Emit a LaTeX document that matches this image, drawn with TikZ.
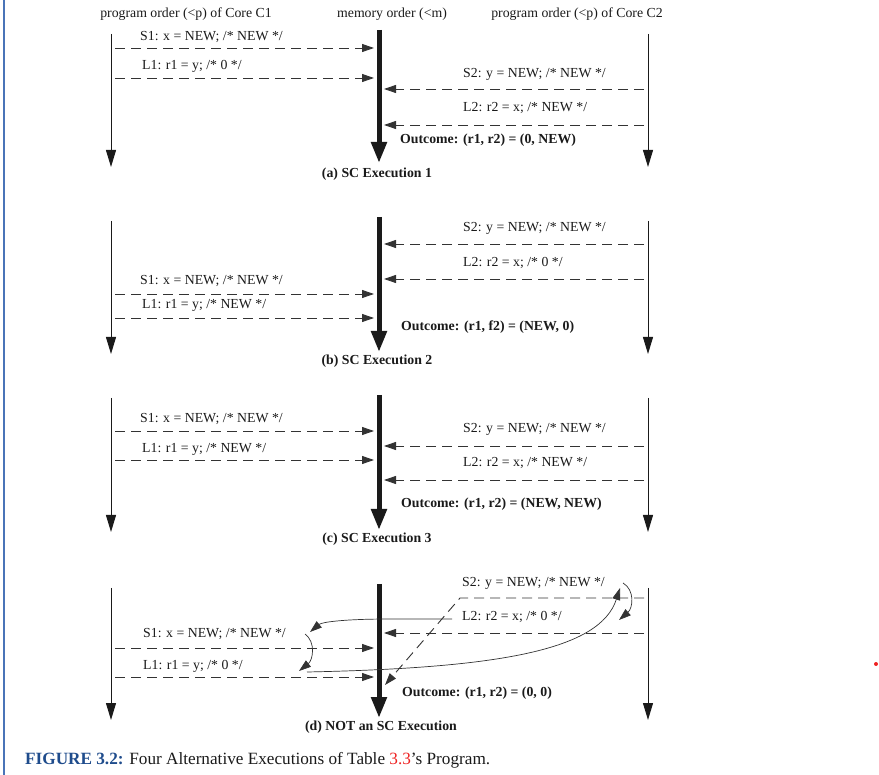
\documentclass[tikz,border=0pt]{standalone}
\usepackage{fontspec}
\setmainfont{Liberation Serif}
\usetikzlibrary{arrows.meta}

\definecolor{rulecol}{HTML}{4A74B8}
\definecolor{figblue}{HTML}{1F4C8C}
\definecolor{refred}{HTML}{EE2222}
\definecolor{ink}{HTML}{1A1A1A}
\definecolor{dashink}{HTML}{333333}

\newcommand{\lblfont}{\fontsize{13.8}{16}\selectfont}

\tikzset{
  lbl/.style={anchor=west, inner sep=0pt, font=\lblfont, text=ink},
  hdr/.style={inner sep=0pt, font=\lblfont, text=ink},
  outc/.style={anchor=west, inner sep=0pt, font=\lblfont\bfseries, text=ink},
  panelcap/.style={inner sep=0pt, font=\lblfont\bfseries, text=ink},
  core/.style={draw=ink, line width=1pt, -{Triangle[length=17pt,width=10pt]}},
  memline/.style={draw=ink, line width=5pt, -{Triangle[length=21pt,width=15pt]}},
  msg/.style={draw=dashink, line width=0.9pt, dash pattern=on 10pt off 6pt,
              -{Triangle[length=12pt,width=8pt]}},
  flow/.style={draw=dashink, line width=0.7pt, -{Triangle[length=12pt,width=8pt]}},
}

\begin{document}
\begin{tikzpicture}[x=1pt,y=-1pt]
\useasboundingbox (0,0) rectangle (879,775);

% page rule on the left
\draw[rulecol, line width=2pt] (4,0) -- (4,775);
% stray marker on the right
\fill[refred] (876,664) circle (2);

% column headers
\node[hdr] (h1) at (186,14) {program order (<p) of Core C1};
\node[hdr] (hm) at (392,14) {memory order (<m)};
\node[hdr] (h2) at (577,14) {program order (<p) of Core C2};

% ---------------- (a) SC Execution 1 ----------------
\coordinate (a1t) at (111,34);  \coordinate (a1b) at (111,167);
\coordinate (amt) at (379,30);  \coordinate (amb) at (379,163);
\coordinate (a2t) at (648,34);  \coordinate (a2b) at (648,167);
\draw[core] (a1t) -- (a1b);
\draw[memline] (amt) -- (amb);
\draw[core] (a2t) -- (a2b);

\node[lbl] (aS1) at (140,37) {S1: x = NEW; /* NEW */};
\coordinate (aS1s) at (115,48); \coordinate (aS1e) at (374,48);
\draw[msg] (aS1s) -- (aS1e);
\node[lbl] (aL1) at (142,66) {L1: r1 = y; /* 0 */};
\coordinate (aL1s) at (115,78); \coordinate (aL1e) at (374,78);
\draw[msg] (aL1s) -- (aL1e);
\node[lbl] (aS2) at (463,74) {S2: y = NEW; /* NEW */};
\coordinate (aS2s) at (644,89); \coordinate (aS2e) at (384,89);
\draw[msg] (aS2s) -- (aS2e);
\node[lbl] (aL2) at (463,108) {L2: r2 = x; /* NEW */};
\coordinate (aL2s) at (644,125); \coordinate (aL2e) at (384,125);
\draw[msg] (aL2s) -- (aL2e);
\node[outc] (aout) at (400,140) {Outcome: (r1, r2) = (0, NEW)};
\node[panelcap] (acap) at (377,174) {(a) SC Execution 1};

% ---------------- (b) SC Execution 2 ----------------
\coordinate (b1t) at (111,221); \coordinate (b1b) at (111,354);
\coordinate (bmt) at (379,217); \coordinate (bmb) at (379,352);
\coordinate (b2t) at (648,221); \coordinate (b2b) at (648,354);
\draw[core] (b1t) -- (b1b);
\draw[memline] (bmt) -- (bmb);
\draw[core] (b2t) -- (b2b);

\node[lbl] (bS2) at (463,228) {S2: y = NEW; /* NEW */};
\coordinate (bS2s) at (644,244); \coordinate (bS2e) at (384,244);
\draw[msg] (bS2s) -- (bS2e);
\node[lbl] (bL2) at (463,263) {L2: r2 = x; /* 0 */};
\coordinate (bL2s) at (644,279); \coordinate (bL2e) at (384,279);
\draw[msg] (bL2s) -- (bL2e);
\node[lbl] (bS1) at (140,281) {S1: x = NEW; /* NEW */};
\coordinate (bS1s) at (115,294); \coordinate (bS1e) at (374,294);
\draw[msg] (bS1s) -- (bS1e);
\node[lbl] (bL1) at (142,305) {L1: r1 = y; /* NEW */};
\coordinate (bL1s) at (115,318); \coordinate (bL1e) at (374,318);
\draw[msg] (bL1s) -- (bL1e);
\node[outc] (bout) at (401,327) {Outcome: (r1, f2) = (NEW, 0)};
\node[panelcap] (bcap) at (377,361) {(b) SC Execution 2};

% ---------------- (c) SC Execution 3 ----------------
\coordinate (c1t) at (111,398); \coordinate (c1b) at (111,532);
\coordinate (cmt) at (379,395); \coordinate (cmb) at (379,530);
\coordinate (c2t) at (648,398); \coordinate (c2b) at (648,532);
\draw[core] (c1t) -- (c1b);
\draw[memline] (cmt) -- (cmb);
\draw[core] (c2t) -- (c2b);

\node[lbl] (cS1) at (140,419) {S1: x = NEW; /* NEW */};
\coordinate (cS1s) at (115,431); \coordinate (cS1e) at (374,431);
\draw[msg] (cS1s) -- (cS1e);
\node[lbl] (cL1) at (142,449) {L1: r1 = y; /* NEW */};
\coordinate (cL1s) at (115,460); \coordinate (cL1e) at (374,460);
\draw[msg] (cL1s) -- (cL1e);
\node[lbl] (cS2) at (463,429) {S2: y = NEW; /* NEW */};
\coordinate (cS2s) at (644,446); \coordinate (cS2e) at (384,446);
\draw[msg] (cS2s) -- (cS2e);
\node[lbl] (cL2) at (463,463) {L2: r2 = x; /* NEW */};
\coordinate (cL2s) at (644,480); \coordinate (cL2e) at (384,480);
\draw[msg] (cL2s) -- (cL2e);
\node[outc] (cout) at (401,504) {Outcome: (r1, r2) = (NEW, NEW)};
\node[panelcap] (ccap) at (377,539) {(c) SC Execution 3};

% ---------------- (d) NOT an SC Execution ----------------
\coordinate (d1t) at (111,588); \coordinate (d1b) at (111,720);
\coordinate (dmt) at (379,584); \coordinate (dmb) at (379,718);
\coordinate (d2t) at (648,588); \coordinate (d2b) at (648,720);
\draw[core] (d1t) -- (d1b);
\draw[memline] (dmt) -- (dmb);
\draw[core] (d2t) -- (d2b);

\node[lbl] (dS2) at (462,583) {S2: y = NEW; /* NEW */};
\node[lbl] (dL2) at (462,617) {L2: r2 = x; /* 0 */};
\node[lbl] (dS1) at (143,634) {S1: x = NEW; /* NEW */};
\node[lbl] (dL1) at (143,666) {L1: r1 = y; /* 0 */};
\node[outc] (dout) at (402,693) {Outcome: (r1, r2) = (0, 0)};
\node[panelcap] (dcap) at (381,727) {(d) NOT an SC Execution};

% delayed store S2 reaches memory last
\coordinate (dS2s) at (644,598); \coordinate (dS2k) at (460,598);
\coordinate (dS2e) at (385,685);
\draw[msg] (dS2s) -- (dS2k) -- (dS2e);
\coordinate (dL2s) at (644,633); \coordinate (dL2e) at (384,633);
\draw[msg] (dL2s) -- (dL2e);
\coordinate (dS1s) at (115,648); \coordinate (dS1e) at (374,648);
\draw[msg] (dS1s) -- (dS1e);
\coordinate (dL1s) at (115,677); \coordinate (dL1e) at (374,677);
\draw[msg] (dL1s) -- (dL1e);

% cycle of ordering constraints
\coordinate (pA0) at (452,619); \coordinate (pA1) at (310,632);
\draw[flow] (pA0) -- (390,619) .. controls (345,619) and (322,622) .. (pA1);
\coordinate (pB0) at (305,634); \coordinate (pB1) at (299,671);
\draw[flow] (pB0) .. controls (316,642) and (313,660) .. (pB1);
\coordinate (pC0) at (307,672); \coordinate (pC1) at (620,588);
\draw[flow] (pC0) .. controls (500,668) and (600,650) .. (pC1);
\coordinate (pD0) at (623,583); \coordinate (pD1) at (619,620);
\draw[flow] (pD0) .. controls (635,590) and (633,608) .. (pD1);

% figure caption
\node[anchor=west, inner sep=0pt, font=\fontsize{17.2}{20}\selectfont, text=ink] (figcap) at (25,760)
  {\textcolor{figblue}{\bfseries FIGURE 3.2:} Four Alternative Executions of Table \textcolor{refred}{3.3}’s Program.};
\end{tikzpicture}
\end{document}
